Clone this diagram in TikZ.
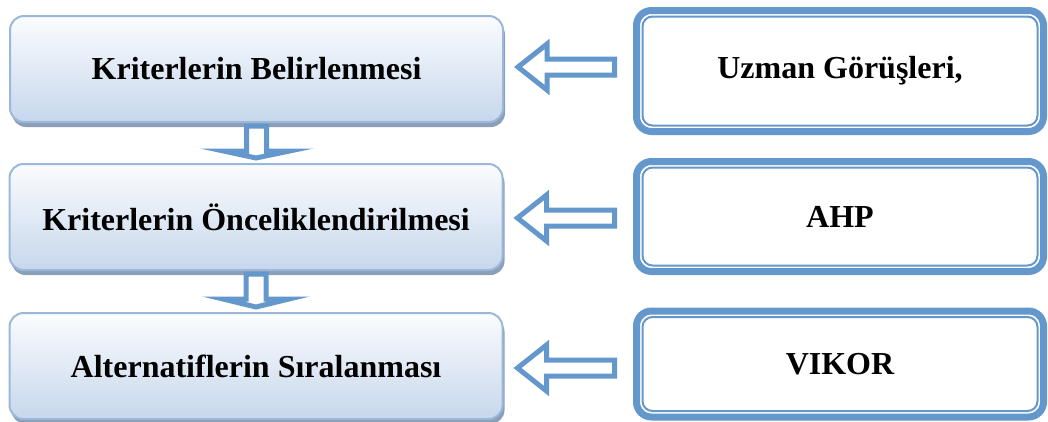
\documentclass[tikz,border=0pt]{standalone}
\usepackage{fontspec}
\setmainfont{Liberation Serif}
\usetikzlibrary{calc,shadows}

\definecolor{boxline}{HTML}{9BB7DA}
\definecolor{boxtop}{HTML}{FBFCFE}
\definecolor{boxbot}{HTML}{C6D7EC}
\definecolor{boxshade}{HTML}{8C9FB8}
\definecolor{arrblue}{HTML}{6497CB}

\begin{document}
\begin{tikzpicture}[
  x=1pt,y=-1pt,
  stage/.style={draw=boxline,line width=2pt,rounded corners=14pt,
    top color=boxtop,bottom color=boxbot,
    minimum width=493pt,minimum height=106pt,inner sep=0pt,
    font=\fontsize{32}{38}\selectfont\bfseries,
    general shadow={shadow xshift=2pt,shadow yshift=-5pt,fill=boxshade}},
  method/.style={draw=arrblue,line width=7pt,rounded corners=15pt,fill=white,
    minimum width=407pt,inner sep=0pt,
    font=\fontsize{32}{38}\selectfont\bfseries},
  innerline/.style={draw=arrblue,line width=2pt,rounded corners=10pt},
  blk/.style={draw=arrblue,fill=white,line width=5pt,line join=miter}
]
\useasboundingbox (0,0) rectangle (1048,421);

% -------------------------
% Left column: steps
% -------------------------
\node[stage] (L1) at (256.5,69) {Kriterlerin Belirlenmesi};
\node[stage] (L2) at (256,217) {Kriterlerin Önceliklendirilmesi};
\node[stage] (L3) at (256,366) {Alternatiflerin Sıralanması};

% -------------------------
% Right column: methods
% -------------------------
\node[method,minimum height=121pt] (R1) at (840,71) {Uzman Görüşleri,};
\node[method,minimum height=110pt] (R2) at (840,216.5) {AHP};
\node[method,minimum height=106pt] (R3) at (840,364) {VIKOR};

\draw[innerline] ([shift={(9.5,9.5)}]R1.north west) rectangle ([shift={(-9.5,-9.5)}]R1.south east);
\draw[innerline] ([shift={(9.5,9.5)}]R2.north west) rectangle ([shift={(-9.5,-9.5)}]R2.south east);
\draw[innerline] ([shift={(9.5,9.5)}]R3.north west) rectangle ([shift={(-9.5,-9.5)}]R3.south east);

% -------------------------
% Block arrows: methods -> steps
% -------------------------
\coordinate (t1) at ($(L1.east)+(14,-2)$);
\coordinate (t2) at ($(L2.east)+(14,1)$);
\coordinate (t3) at ($(L3.east)+(14,2)$);

\draw[blk] (t1) -- ++(29,-23) -- ++(0,15) -- ($(t1 -| R1.west)+(-18.5,-8)$)
  -- ++(0,16) -- ($(t1)+(29,8)$) -- ++(0,15) -- cycle;
\draw[blk] (t2) -- ++(29,-23) -- ++(0,15) -- ($(t2 -| R2.west)+(-18.5,-8)$)
  -- ++(0,16) -- ($(t2)+(29,8)$) -- ++(0,15) -- cycle;
\draw[blk] (t3) -- ++(29,-23) -- ++(0,15) -- ($(t3 -| R3.west)+(-18.5,-8)$)
  -- ++(0,16) -- ($(t3)+(29,8)$) -- ++(0,15) -- cycle;

% -------------------------
% Block arrows: step -> step
% -------------------------
\draw[blk] ($(L1.south)+(-10,3)$) -- ++(0,25) -- ++(-23,0)
  -- ($(L2.north)+(0,-5)$) -- ($(L1.south)+(33,28)$) -- ++(-23,0) -- ++(0,-25) -- cycle;
\draw[blk] ($(L2.south)+(-10,3)$) -- ++(0,25) -- ++(-23,0)
  -- ($(L3.north)+(0,-5)$) -- ($(L2.south)+(33,28)$) -- ++(-23,0) -- ++(0,-25) -- cycle;

\end{tikzpicture}
\end{document}
